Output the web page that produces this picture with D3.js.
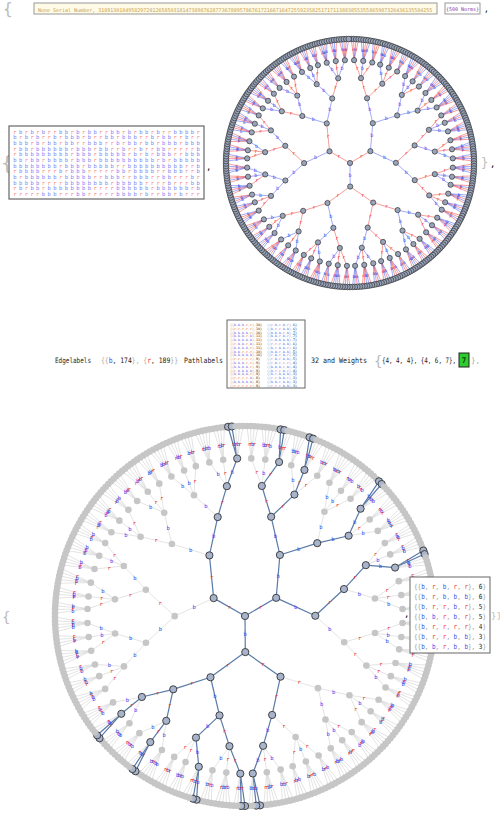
<!DOCTYPE html>
<html><head><meta charset="utf-8">
<script src="https://cdn.jsdelivr.net/npm/d3@7"></script>
<style>body{margin:0;background:#fff;font-family:"DejaVu Sans Mono",monospace}</style>
</head><body><svg id="c" width="500" height="814"></svg>
<script>
// data
const serialText = "None Serial Number, 318913018495829728126585031814738987628773678895786761721667164725592358251717113883855355865987326436135584255";
const normsText = "{500 Norms}";
const edgeLabelCounts = [["b", 174], ["r", 189]];
const weights = [[4, 4, 4], [4, 6, 7]];
const weightBox = 7;
const pathCount = 32;
// leaves hanging from each depth-5 node
const leafCounts = [
  4, 5, 4, 4, 5, 4, 5, 4, 4, 5, 4, 5, 4, 4, 5, 4, 5, 4,
  5, 4, 4, 5, 4, 4, 5, 4, 5, 4, 4, 5, 4, 5, 4, 4, 5, 4,
  4, 5, 4, 5, 4, 4, 5, 4, 5, 4, 4, 5, 5, 4, 4, 5, 4, 5,
  4, 4, 5, 4, 5, 4, 4, 5, 4, 4, 5, 4, 5, 4, 4, 5, 4, 5
];
const edgeColours = [
  "rbrbbrrbrbbrbrrbrbrbbrrbbrbrrbbrbrbrrbbrbrbbrrbrbrrbbrbrbrbbrrbr",
  "bbrrbrbrrbbrbrbrbrrbbrrbrbbrbrrbrbbrrbrbrbbrbrrbbrbrbrrbrbbrrbbr",
  "rrbbrbrbbrrbrbrbbrbrrbrbbrrbbrbrbrrbrbbrbrrbbrrbrbrbbrbrrbrbbrbr",
  "brbrrbbrbrbbrrbrrbbrbrbrbbrrbrbbrbrrbrbrbbrrbbrbrrbrbrbbrbrrbbrr",
  "rbbrbrrbrbrbbrrbrbbrrbrbrbbrbrrbbrbrrbrbbrbrrbbrrbrbbrbrbrrbbrbr",
  "bbrbrrbrbbrrbrbrbbrbrrbrbbrbrrbbrbrbrrbrbbrrbrbrbrrbbrbrbbrrbrbb"
].join("");
const matrixRows = [
  "rbrbrbrrbbrbrbbrrbbrbrbbrbrrbbbbr",
  "brbrbrrbrbbbrbrrbbrbbbrrbrbbrrbrr",
  "bbbrbrbbrbbrrbbbrrbrbbrbbrbbbrbbb",
  "rbbrbbbbbbrbbbrbbrrbrrbrrbbrrrrrb",
  "rbbbbbbbbbrbbbrbbbbbrbrbrbbbrrbbb",
  "bbrbbrbbbbrbbbrbbbbbbbbbbrbrbbbbb",
  "bbbbbbbbrbbbrbbbbbrrbbbbbbbbbbrrb",
  "rbbbbrrrbrbbbrrrrrbbrbbbbrrbbbrrb",
  "brbbbbbbrbbbbbrrbbbrrbbbrrbbrrrbr",
  "bbbbbrrrrbbbbbbbbrbbbbbrrrrbrrrbb",
  "rbrbbrbbbbbbbbrrrrbbbbbbrbbbbbbrb",
  "rrrrrbbbrrrbbrrrrrbbbbrbrrbbrbrrr"
];
const pathLabelsL = [["bbbrr",10],["rrrrr",10],["bbbbr",10],["bbbrb",11],["bbbbb",11],["rbbrb",11],["bbbbr",11],["bbrrr",10],["bbbbb",10],["rrrrr",9],["bbbrr",9],["bbbbr",9],["rbbbb",9],["bbbbr",9],["rrrrb",8],["bbbbb",8],["rrrrr",8]];
const pathLabelsR = [["rbrbr",6],["brrbb",6],["bbbrb",7],["bbrbr",7],["rbbbb",7],["rrrbb",6],["brbbr",6],["bbrbb",5],["rbrbr",5],["rbrbb",5],["rbrrr",4],["bbbrb",4],["brrbr",4],["brbbb",3],["rrbbr",3],["bbrbb",3],["rrrbb",3]];
const legendPaths = [["brbrr",6],["brbbb",6],["brrbr",5],["bbrbr",5],["brrrr",4],["brrbb",3],["bbrbb",3]];
// depth-5 nodes whose two first leaves end a highlighted path
const highlightFans = [71, 2, 4, 9, 14, 35, 36, 39, 43, 46];

const BLUE = "#3b4ef0", RED = "#f0302a";
const levelRadius = [0, 0.19, 0.37, 0.54, 0.69, 0.83, 1];
const svg = d3.select("#c");

// root with 3 children, binary to depth 4, 3 children at depth 5, then a fan of leaves
function layout(R) {
  let li = 0;
  function build(depth) {
    const n = {children: []};
    const k = depth == 0 ? 3 : depth < 4 ? 2 : depth == 4 ? 3 : depth == 5 ? leafCounts[li++] : 0;
    for (let i = 0; i < k; i++) n.children.push(build(depth + 1));
    if (!n.children.length) delete n.children;
    return n;
  }
  const root = d3.hierarchy(build(0));
  d3.cluster().size([2 * Math.PI, R]).separation(() => 1)(root);
  root.each(d => { d.y = R * levelRadius[d.depth]; });
  let k = 0;
  root.each(d => { if (d.parent) d.lab = edgeColours[k++ % edgeColours.length]; });
  return root;
}
const px = d => Math.sin(d.x) * d.y;
const py = d => -Math.cos(d.x) * d.y;
const lx = (l, t) => px(l.source) + (px(l.target) - px(l.source)) * t;
const ly = (l, t) => py(l.source) + (py(l.target) - py(l.source)) * t;

// header line
svg.append("text").attr("x", 3).attr("y", 14).attr("font-size", 16).attr("fill", "#bbb").text("{");
svg.append("rect").attr("x", 34).attr("y", 3).attr("width", 403).attr("height", 11).attr("fill", "#fffbe6").attr("stroke", "#999");
svg.append("text").attr("x", 38).attr("y", 11.5).attr("font-size", 5).attr("fill", "#c8a050").text(serialText);
svg.append("rect").attr("x", 445).attr("y", 3).attr("width", 35).attr("height", 11).attr("fill", "#fff").attr("stroke", "#999");
svg.append("text").attr("x", 462.5).attr("y", 11).attr("font-size", 5).attr("fill", "#8a3aa8").attr("text-anchor", "middle").text(normsText);
svg.append("text").attr("x", 484).attr("y", 12).attr("font-size", 8).text(",");

// matrix box
svg.append("text").attr("x", 1).attr("y", 170).attr("font-size", 20).attr("fill", "#bbb").text("{");
svg.append("rect").attr("x", 9).attr("y", 126).attr("width", 195).attr("height", 73).attr("fill", "#fff").attr("stroke", "#666").attr("stroke-width", 1.2);
const mx = d3.scaleBand().domain(d3.range(33)).range([12, 201]);
const my = d3.scaleBand().domain(d3.range(12)).range([129, 197]);
matrixRows.forEach((row, i) => row.split("").forEach((c, j) => {
  svg.append("text").attr("x", mx(j) + mx.bandwidth() / 2).attr("y", my(i) + my.bandwidth() * 0.8)
    .attr("font-size", 5.5).attr("text-anchor", "middle").attr("fill", c == "b" ? "#7d86f5" : "#f58a80").text(c);
}));
svg.append("text").attr("x", 206).attr("y", 170).attr("font-size", 9).text(",");

// top tree
const topR = 124, topRoot = layout(topR);
const g1 = svg.append("g").attr("transform", "translate(350,163)");
topRoot.links().forEach(l => {
  const col = l.target.lab == "b" ? BLUE : RED;
  g1.append("line").attr("x1", px(l.source)).attr("y1", py(l.source)).attr("x2", px(l.target)).attr("y2", py(l.target))
    .attr("stroke", col).attr("stroke-opacity", 0.6).attr("stroke-width", 0.8);
});
topRoot.links().forEach(l => {
  const col = l.target.lab == "b" ? BLUE : RED;
  const t = l.target.depth == 6 ? 0.5 : 0.55;
  g1.append("text").attr("x", lx(l, t)).attr("y", ly(l, t) + 1.5)
    .attr("font-size", l.target.depth == 6 ? 4 : 5).attr("fill", col).attr("text-anchor", "middle").text(l.target.lab);
});
topRoot.descendants().forEach(d => {
  g1.append("circle").attr("cx", px(d)).attr("cy", py(d)).attr("r", d.depth == 6 ? 2.8 : 2.6)
    .attr("fill", "#98a4ba").attr("stroke", "#333").attr("stroke-width", 0.7);
});
svg.append("text").attr("x", 481).attr("y", 167).attr("font-size", 12).attr("fill", "#bbb").text("}");
svg.append("text").attr("x", 490).attr("y", 167).attr("font-size", 9).text(",");

// middle line, each piece squeezed to the width it has in the picture
const F = 7.5;
function piece(x, w, col) {
  return svg.append("text").attr("x", x).attr("y", 363).attr("font-size", F).attr("fill", col || "#222")
    .attr("textLength", w).attr("lengthAdjust", "spacingAndGlyphs");
}
piece(55, 36).text("Edgelabels");
const el = piece(101, 77, "#aaa");
el.append("tspan").text("{{");
edgeLabelCounts.forEach((e, i) => {
  el.append("tspan").attr("fill", e[0] == "b" ? BLUE : RED).text(e[0]);
  el.append("tspan").attr("fill", "#222").text(", " + e[1]);
  el.append("tspan").text(i ? "}}" : "}, {");
});
piece(184, 39).text("Pathlabels");
svg.append("rect").attr("x", 227).attr("y", 320).attr("width", 78).attr("height", 68).attr("fill", "#fff").attr("stroke", "#666");
[pathLabelsL, pathLabelsR].forEach((col, ci) => col.forEach((p, i) => {
  const t = svg.append("text").attr("x", 230 + ci * 37).attr("y", 326 + i * 3.8).attr("font-size", 3.3).attr("fill", "#999");
  t.append("tspan").text("{{");
  p[0].split("").forEach((c, k) => {
    t.append("tspan").attr("fill", c == "b" ? BLUE : RED).text(c);
    t.append("tspan").text(k < 4 ? "," : "},");
  });
  t.append("tspan").attr("fill", "#222").text(p[1] + "}");
}));
piece(311, 56).text(pathCount + " and Weights");
svg.append("text").attr("x", 374).attr("y", 366).attr("font-size", 14).attr("fill", "#bbb").text("{");
piece(382, 74).text(weights.map(w => "{" + w.join(", ") + "}").join(", ") + ",");
svg.append("rect").attr("x", 459).attr("y", 353).attr("width", 10).attr("height", 14).attr("fill", "#2fcc2f").attr("stroke", "#222");
svg.append("text").attr("x", 464).attr("y", 363).attr("font-size", F).attr("text-anchor", "middle").text(weightBox);
svg.append("text").attr("x", 471).attr("y", 363).attr("font-size", F).attr("fill", "#aaa").text("},");

// bottom tree
const botR = 190, botRoot = layout(botR);
const fans = botRoot.descendants().filter(d => d.depth == 5);
const hl = new Set();
highlightFans.forEach(i => fans[i].children.slice(0, 2).forEach(leaf => {
  let d = leaf; while (d) { hl.add(d); d = d.parent; }
}));
const g2 = svg.append("g").attr("transform", "translate(245,616)");
botRoot.links().forEach(l => {
  const on = hl.has(l.target);
  g2.append("line").attr("x1", px(l.source)).attr("y1", py(l.source)).attr("x2", px(l.target)).attr("y2", py(l.target))
    .attr("stroke", on ? "#5a7aa8" : "#d8d8d8").attr("stroke-width", on ? 1.2 : 0.7);
});
botRoot.links().forEach(l => {
  const t = l.target.depth == 6 ? 0.45 : 0.5;
  g2.append("text").attr("x", lx(l, t)).attr("y", ly(l, t) + 2)
    .attr("font-size", 5.5).attr("text-anchor", "middle").attr("fill", l.target.lab == "b" ? BLUE : RED).text(l.target.lab);
});
botRoot.descendants().forEach(d => {
  const on = hl.has(d);
  g2.append("circle").attr("cx", px(d)).attr("cy", py(d)).attr("r", on ? 3.6 : 3.3)
    .attr("fill", on ? "#a8b4cc" : "#c6c6c6").attr("stroke", on ? "#333" : "none").attr("stroke-width", 0.9);
});
svg.append("text").attr("x", 2).attr("y", 622).attr("font-size", 14).attr("fill", "#bbb").text("{");

// legend
svg.append("text").attr("x", 404).attr("y", 617).attr("font-size", 9).text(",");
svg.append("rect").attr("x", 410).attr("y", 577).attr("width", 80).attr("height", 76).attr("fill", "#fff").attr("stroke", "#666");
legendPaths.forEach((p, i) => {
  const t = svg.append("text").attr("x", 414).attr("y", 589 + i * 10).attr("font-size", 7)
    .attr("textLength", 72).attr("lengthAdjust", "spacingAndGlyphs").attr("fill", "#999");
  t.append("tspan").text("{{");
  p[0].split("").forEach((c, k) => {
    t.append("tspan").attr("fill", c == "b" ? BLUE : RED).text(c);
    t.append("tspan").text(k < 4 ? ", " : "}, ");
  });
  t.append("tspan").attr("fill", "#222").text(p[1]);
  t.append("tspan").text("}");
});
svg.append("text").attr("x", 491).attr("y", 619).attr("font-size", 9).attr("fill", "#bbb").text("}}");
</script></body></html>
